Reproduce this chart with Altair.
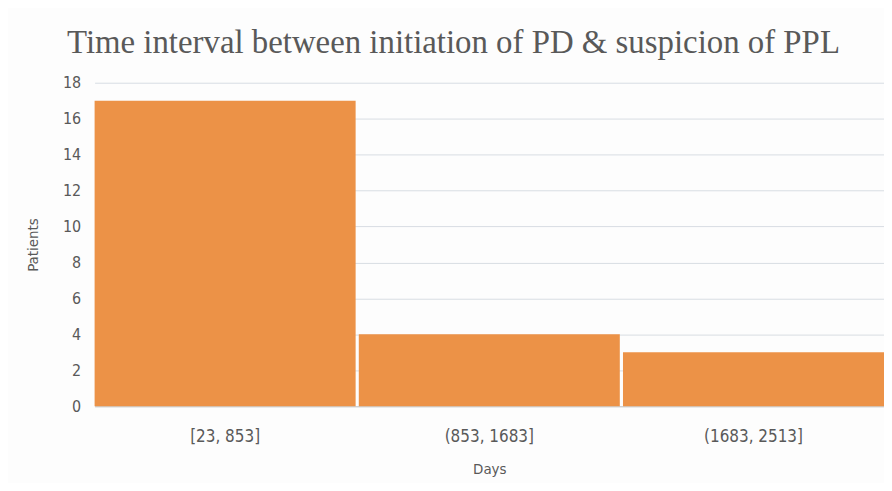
import altair as alt
import pandas as pd

categories = ["[23, 853]", "(853, 1683]", "(1683, 2513]"]
patients = [17, 4, 3]

df = pd.DataFrame({"Days": categories, "Patients": patients})

chart = alt.Chart(df).mark_bar(color="#EC9247").encode(
    x=alt.X("Days:N", sort=categories,
            scale=alt.Scale(paddingInner=0.012, paddingOuter=0),
            axis=alt.Axis(title="Days", labelAngle=0, ticks=False, domain=True,
                          domainColor="#c8c8c8", labelPadding=22, titlePadding=18,
                          labelFontSize=17, titleFontSize=15, labelColor="#595959",
                          titleColor="#595959", labelFont="DejaVu Sans Condensed",
                          titleFont="DejaVu Sans Condensed", titleFontWeight="normal")),
    y=alt.Y("Patients:Q", scale=alt.Scale(domain=[0, 18]),
            axis=alt.Axis(title="Patients", values=list(range(0, 19, 2)), ticks=False,
                          domain=False, grid=True, gridColor="#d8dde3", labelPadding=14,
                          titlePadding=22, labelFontSize=16, titleFontSize=15,
                          labelColor="#595959", titleColor="#595959",
                          labelFont="DejaVu Sans Condensed", titleFont="DejaVu Sans Condensed",
                          titleFontWeight="normal")),
).properties(
    width=793, height=325,
    title=alt.TitleParams("Time interval between initiation of PD & suspicion of PPL",
                          font="Liberation Serif", fontSize=33, fontWeight="normal",
                          color="#595959", anchor="middle", dx=-36, offset=15),
    autosize=alt.AutoSizeParams(type="none"),
    padding={"left": 87, "top": 74, "right": 0, "bottom": 76},
    background="#fdfdfd",
).configure_view(stroke=None)

chart.save("out.html", embed_options={"renderer": "svg", "actions": False})
